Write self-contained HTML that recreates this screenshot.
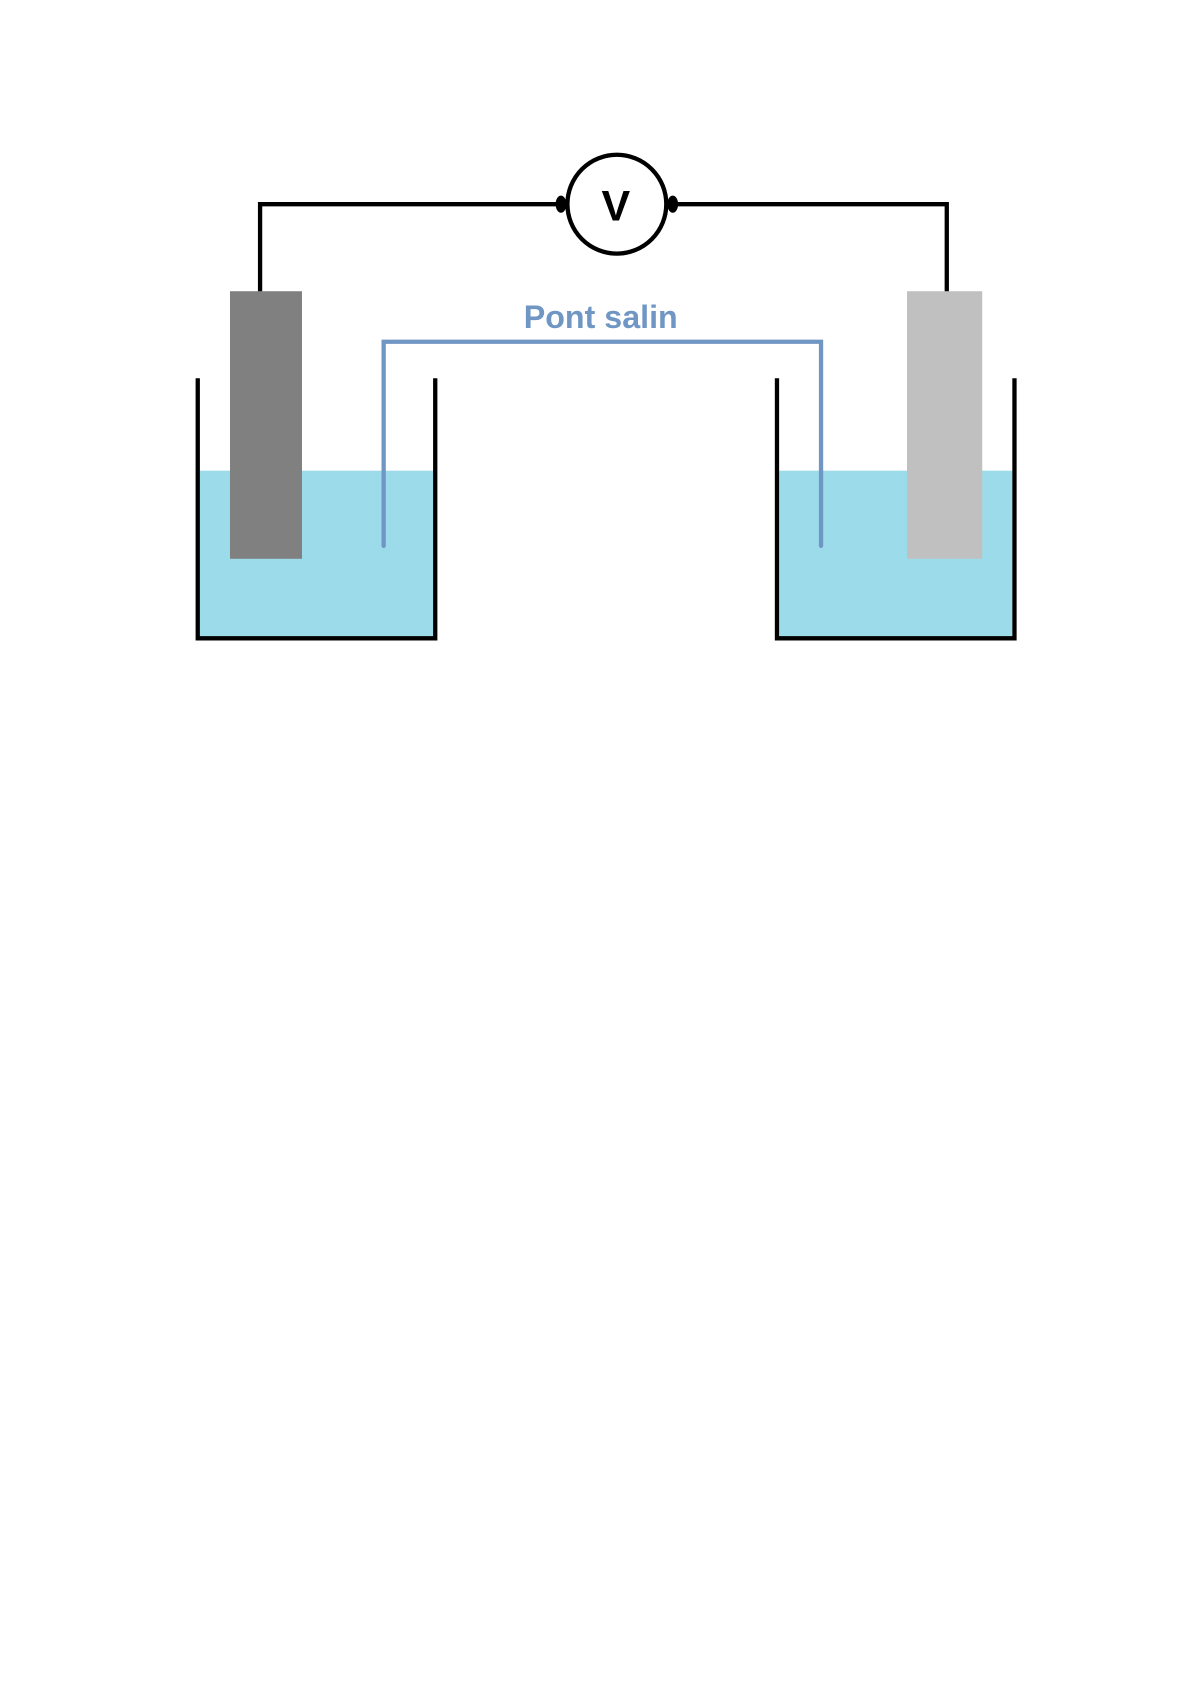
<!DOCTYPE html>
<html><head><meta charset="utf-8"><style>html,body{margin:0;padding:0;background:#fff}svg{display:block}</style></head>
<body>
<svg width="1191" height="1684" viewBox="0 0 1116 1578" xmlns="http://www.w3.org/2000/svg">
<rect width="1116" height="1578" fill="#fff"/>
<g transform="translate(1,1) scale(1.007)">
<rect x="185" y="437" width="217" height="156" fill="#9cdbea"/>
<rect x="724" y="437" width="217" height="156" fill="#9cdbea"/>
<rect x="213" y="270" width="67" height="249" fill="#808080"/>
<rect x="843" y="270" width="70" height="249" fill="#c0c0c0"/>
<polyline points="183,351 183,593 404,593 404,351" fill="none" stroke="#000" stroke-width="4"/>
<polyline points="722,351 722,593 943,593 943,351" fill="none" stroke="#000" stroke-width="4"/>
<polyline points="241,270 241,189 521,189" fill="none" stroke="#000" stroke-width="4"/>
<polyline points="624,189 880,189 880,270" fill="none" stroke="#000" stroke-width="4"/>
<circle cx="573" cy="189" r="46" fill="#fff" stroke="#000" stroke-width="4"/>
<ellipse cx="521" cy="189" rx="5" ry="8" fill="#000"/>
<ellipse cx="625" cy="189" rx="5" ry="8" fill="#000"/>
<text x="572" y="204" text-anchor="middle" font-family="Liberation Sans, sans-serif" font-weight="bold" font-size="40" fill="#000">V</text>
<polyline points="356,507 356,317 763,317 763,507" fill="none" stroke="#7096c4" stroke-width="4" stroke-linecap="round"/>
<text x="558" y="304" text-anchor="middle" font-family="Liberation Sans, sans-serif" font-weight="bold" font-size="30" fill="#7096c4">Pont salin</text>
</g>
</svg>
</body></html>
